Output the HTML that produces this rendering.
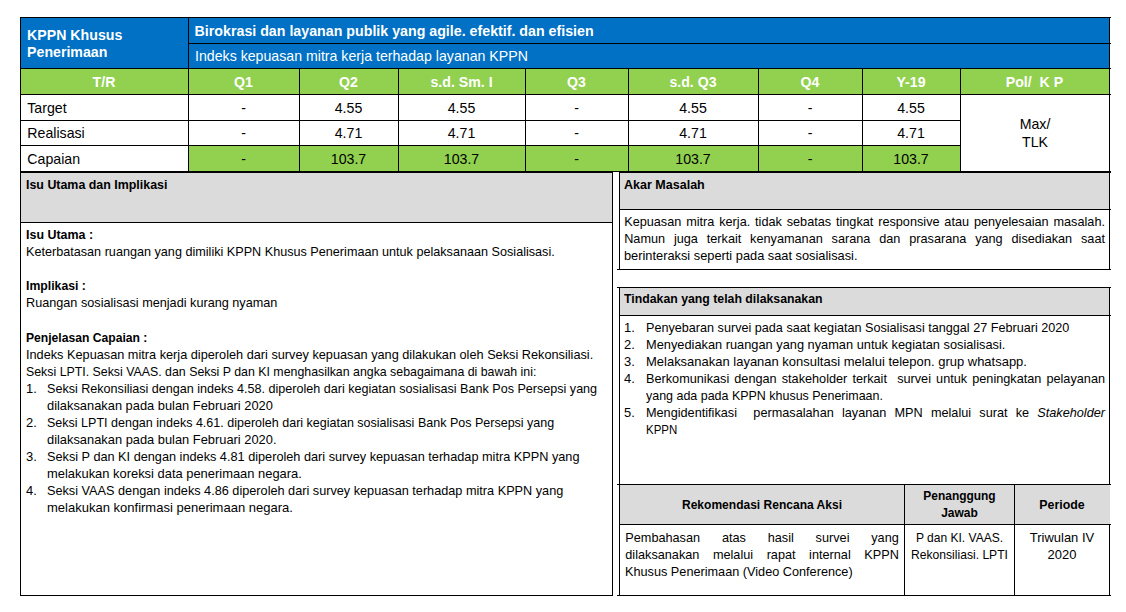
<!DOCTYPE html>
<html lang="id"><head><meta charset="utf-8"><title>KPPN Khusus Penerimaan</title>
<style>
html,body{margin:0;padding:0;background:#fff}
body{width:1126px;height:612px;position:relative;overflow:hidden;font-family:"Liberation Sans",sans-serif}
.b{position:absolute}
.t{position:absolute;white-space:nowrap;font-family:"Liberation Sans",sans-serif;color:#000}
.j{text-align:justify;text-align-last:justify}
</style></head><body>
<div class="b" style="left:20px;top:17px;width:1090px;height:51px;background:#0071c4"></div>
<div class="b" style="left:20px;top:68px;width:1090px;height:26px;background:#92d050"></div>
<div class="b" style="left:188px;top:145px;width:772px;height:26px;background:#92d050"></div>
<div class="b" style="left:20px;top:17px;width:1091px;height:1px;background:#000"></div>
<div class="b" style="left:188px;top:43px;width:923px;height:1px;background:#000"></div>
<div class="b" style="left:20px;top:68px;width:1091px;height:1px;background:#000"></div>
<div class="b" style="left:20px;top:94px;width:1091px;height:1px;background:#000"></div>
<div class="b" style="left:20px;top:120px;width:940px;height:1px;background:#000"></div>
<div class="b" style="left:20px;top:145px;width:940px;height:1px;background:#000"></div>
<div class="b" style="left:20px;top:171px;width:1091px;height:2px;background:#000"></div>
<div class="b" style="left:20px;top:17px;width:1px;height:155px;background:#000"></div>
<div class="b" style="left:188px;top:17px;width:1px;height:155px;background:#000"></div>
<div class="b" style="left:299px;top:68px;width:1px;height:104px;background:#000"></div>
<div class="b" style="left:398px;top:68px;width:1px;height:104px;background:#000"></div>
<div class="b" style="left:525px;top:68px;width:1px;height:104px;background:#000"></div>
<div class="b" style="left:628px;top:68px;width:1px;height:104px;background:#000"></div>
<div class="b" style="left:758px;top:68px;width:1px;height:104px;background:#000"></div>
<div class="b" style="left:862px;top:68px;width:1px;height:104px;background:#000"></div>
<div class="b" style="left:960px;top:68px;width:1px;height:104px;background:#000"></div>
<div class="b" style="left:1109px;top:17px;width:1px;height:155px;background:#000"></div>
<div class="t" style="top:26.09px;font-size:14.17px;line-height:18px;color:#fff;font-weight:bold;left:27.1px;">KPPN Khusus</div>
<div class="t" style="top:42.69px;font-size:14.17px;line-height:18px;color:#fff;font-weight:bold;left:27.1px;">Penerimaan</div>
<div class="t" style="top:21.69px;font-size:14.23px;line-height:18px;color:#fff;font-weight:bold;left:194.6px;">Birokrasi dan layanan publik yang agile. efektif. dan efisien</div>
<div class="t" style="top:46.89px;font-size:14.17px;line-height:18px;color:#fff;left:195px;">Indeks kepuasan mitra kerja terhadap layanan KPPN</div>
<div class="t" style="top:73.09px;font-size:14.17px;line-height:18px;color:#fff;font-weight:bold;left:20px;width:168px;text-align:center;">T/R</div>
<div class="t" style="top:73.09px;font-size:14.17px;line-height:18px;color:#fff;font-weight:bold;left:188px;width:111px;text-align:center;">Q1</div>
<div class="t" style="top:73.09px;font-size:14.17px;line-height:18px;color:#fff;font-weight:bold;left:299px;width:99px;text-align:center;">Q2</div>
<div class="t" style="top:73.09px;font-size:14.17px;line-height:18px;color:#fff;font-weight:bold;left:398px;width:127px;text-align:center;">s.d. Sm. I</div>
<div class="t" style="top:73.09px;font-size:14.17px;line-height:18px;color:#fff;font-weight:bold;left:525px;width:103px;text-align:center;">Q3</div>
<div class="t" style="top:73.09px;font-size:14.17px;line-height:18px;color:#fff;font-weight:bold;left:628px;width:130px;text-align:center;">s.d. Q3</div>
<div class="t" style="top:73.09px;font-size:14.17px;line-height:18px;color:#fff;font-weight:bold;left:758px;width:104px;text-align:center;">Q4</div>
<div class="t" style="top:73.09px;font-size:14.17px;line-height:18px;color:#fff;font-weight:bold;left:862px;width:98px;text-align:center;">Y-19</div>
<div class="t" style="top:73.09px;font-size:14.17px;line-height:18px;color:#fff;font-weight:bold;left:960px;width:149px;text-align:center;">Pol/&nbsp; K P</div>
<div class="t" style="top:98.69px;font-size:14.17px;line-height:18px;color:#000;left:27.3px;">Target</div>
<div class="t" style="top:98.69px;font-size:14.17px;line-height:18px;color:#000;left:188px;width:111px;text-align:center;">-</div>
<div class="t" style="top:98.69px;font-size:14.17px;line-height:18px;color:#000;left:299px;width:99px;text-align:center;">4.55</div>
<div class="t" style="top:98.69px;font-size:14.17px;line-height:18px;color:#000;left:398px;width:127px;text-align:center;">4.55</div>
<div class="t" style="top:98.69px;font-size:14.17px;line-height:18px;color:#000;left:525px;width:103px;text-align:center;">-</div>
<div class="t" style="top:98.69px;font-size:14.17px;line-height:18px;color:#000;left:628px;width:130px;text-align:center;">4.55</div>
<div class="t" style="top:98.69px;font-size:14.17px;line-height:18px;color:#000;left:758px;width:104px;text-align:center;">-</div>
<div class="t" style="top:98.69px;font-size:14.17px;line-height:18px;color:#000;left:862px;width:98px;text-align:center;">4.55</div>
<div class="t" style="top:124.19px;font-size:14.17px;line-height:18px;color:#000;left:27.3px;">Realisasi</div>
<div class="t" style="top:124.19px;font-size:14.17px;line-height:18px;color:#000;left:188px;width:111px;text-align:center;">-</div>
<div class="t" style="top:124.19px;font-size:14.17px;line-height:18px;color:#000;left:299px;width:99px;text-align:center;">4.71</div>
<div class="t" style="top:124.19px;font-size:14.17px;line-height:18px;color:#000;left:398px;width:127px;text-align:center;">4.71</div>
<div class="t" style="top:124.19px;font-size:14.17px;line-height:18px;color:#000;left:525px;width:103px;text-align:center;">-</div>
<div class="t" style="top:124.19px;font-size:14.17px;line-height:18px;color:#000;left:628px;width:130px;text-align:center;">4.71</div>
<div class="t" style="top:124.19px;font-size:14.17px;line-height:18px;color:#000;left:758px;width:104px;text-align:center;">-</div>
<div class="t" style="top:124.19px;font-size:14.17px;line-height:18px;color:#000;left:862px;width:98px;text-align:center;">4.71</div>
<div class="t" style="top:149.69px;font-size:14.17px;line-height:18px;color:#000;left:27.3px;">Capaian</div>
<div class="t" style="top:149.69px;font-size:14.17px;line-height:18px;color:#000;left:188px;width:111px;text-align:center;">-</div>
<div class="t" style="top:149.69px;font-size:14.17px;line-height:18px;color:#000;left:299px;width:99px;text-align:center;">103.7</div>
<div class="t" style="top:149.69px;font-size:14.17px;line-height:18px;color:#000;left:398px;width:127px;text-align:center;">103.7</div>
<div class="t" style="top:149.69px;font-size:14.17px;line-height:18px;color:#000;left:525px;width:103px;text-align:center;">-</div>
<div class="t" style="top:149.69px;font-size:14.17px;line-height:18px;color:#000;left:628px;width:130px;text-align:center;">103.7</div>
<div class="t" style="top:149.69px;font-size:14.17px;line-height:18px;color:#000;left:758px;width:104px;text-align:center;">-</div>
<div class="t" style="top:149.69px;font-size:14.17px;line-height:18px;color:#000;left:862px;width:98px;text-align:center;">103.7</div>
<div class="t" style="top:115.09px;font-size:14.17px;line-height:18px;color:#000;left:960px;width:150px;text-align:center;">Max/</div>
<div class="t" style="top:132.59px;font-size:14.17px;line-height:18px;color:#000;left:960px;width:150px;text-align:center;">TLK</div>
<div class="b" style="left:20px;top:173px;width:593px;height:49px;background:#dbdbdb"></div>
<div class="b" style="left:20px;top:221.5px;width:593px;height:1px;background:#000"></div>
<div class="b" style="left:20px;top:594.5px;width:593px;height:1px;background:#000"></div>
<div class="b" style="left:20px;top:171px;width:1px;height:424px;background:#000"></div>
<div class="b" style="left:612px;top:171px;width:1px;height:424px;background:#000"></div>
<div class="t c" style="top:177.00px;font-size:12.7px;line-height:17px;font-weight:bold;left:26.0px;transform-origin:0 0;transform:scaleX(0.9781);">Isu Utama dan Implikasi</div>
<div class="t c" style="top:227.00px;font-size:12.7px;line-height:17px;font-weight:bold;left:25.9px;transform-origin:0 0;transform:scaleX(0.9806);">Isu Utama :</div>
<div class="t c" style="top:244.00px;font-size:12.7px;line-height:17px;left:25.9px;transform-origin:0 0;transform:scaleX(0.9956);">Keterbatasan ruangan yang dimiliki KPPN Khusus Penerimaan untuk pelaksanaan Sosialisasi.</div>
<div class="t c" style="top:278.00px;font-size:12.7px;line-height:17px;font-weight:bold;left:25.9px;transform-origin:0 0;transform:scaleX(0.9652);">Implikasi :</div>
<div class="t c" style="top:295.00px;font-size:12.7px;line-height:17px;left:25.9px;transform-origin:0 0;transform:scaleX(0.9983);">Ruangan sosialisasi menjadi kurang nyaman</div>
<div class="t c" style="top:330.00px;font-size:12.7px;line-height:17px;font-weight:bold;left:25.9px;transform-origin:0 0;transform:scaleX(0.9559);">Penjelasan Capaian :</div>
<div class="t c" style="top:347.00px;font-size:12.7px;line-height:17px;left:25.9px;transform-origin:0 0;transform:scaleX(1.0028);">Indeks Kepuasan mitra kerja diperoleh dari survey kepuasan yang dilakukan oleh Seksi Rekonsiliasi.</div>
<div class="t c" style="top:364.00px;font-size:12.7px;line-height:17px;left:25.9px;transform-origin:0 0;transform:scaleX(0.9735);">Seksi LPTI. Seksi VAAS. dan Seksi P dan KI menghasilkan angka sebagaimana di bawah ini:</div>
<div class="t c" style="top:381.00px;font-size:12.7px;line-height:17px;left:25.9px;transform-origin:0 0;transform:scaleX(1.0194);">1.</div>
<div class="t c" style="top:381.00px;font-size:12.7px;line-height:17px;left:46.7px;transform-origin:0 0;transform:scaleX(0.9911);">Seksi Rekonsiliasi dengan indeks 4.58. diperoleh dari kegiatan sosialisasi Bank Pos Persepsi yang</div>
<div class="t c" style="top:398.00px;font-size:12.7px;line-height:17px;left:46.7px;transform-origin:0 0;transform:scaleX(1.0133);">dilaksanakan pada bulan Februari 2020</div>
<div class="t c" style="top:415.00px;font-size:12.7px;line-height:17px;left:25.9px;transform-origin:0 0;transform:scaleX(1.0194);">2.</div>
<div class="t c" style="top:415.00px;font-size:12.7px;line-height:17px;left:46.7px;transform-origin:0 0;transform:scaleX(0.9866);">Seksi LPTI dengan indeks 4.61. diperoleh dari kegiatan sosialisasi Bank Pos Persepsi yang</div>
<div class="t c" style="top:432.00px;font-size:12.7px;line-height:17px;left:46.7px;transform-origin:0 0;transform:scaleX(1.0134);">dilaksanakan pada bulan Februari 2020.</div>
<div class="t c" style="top:449.00px;font-size:12.7px;line-height:17px;left:25.9px;transform-origin:0 0;transform:scaleX(1.0194);">3.</div>
<div class="t c" style="top:449.00px;font-size:12.7px;line-height:17px;left:46.7px;transform-origin:0 0;transform:scaleX(1.0017);">Seksi P dan KI dengan indeks 4.81 diperoleh dari survey kepuasan terhadap mitra KPPN yang</div>
<div class="t c" style="top:466.00px;font-size:12.7px;line-height:17px;left:46.7px;transform-origin:0 0;transform:scaleX(1.0178);">melakukan koreksi data penerimaan negara.</div>
<div class="t c" style="top:483.00px;font-size:12.7px;line-height:17px;left:25.9px;transform-origin:0 0;transform:scaleX(1.0194);">4.</div>
<div class="t c" style="top:483.00px;font-size:12.7px;line-height:17px;left:46.7px;transform-origin:0 0;transform:scaleX(1.0005);">Seksi VAAS dengan indeks 4.86 diperoleh dari survey kepuasan terhadap mitra KPPN yang</div>
<div class="t c" style="top:500.00px;font-size:12.7px;line-height:17px;left:46.7px;transform-origin:0 0;transform:scaleX(1.0256);">melakukan konfirmasi penerimaan negara.</div>
<div class="b" style="left:613px;top:172px;width:6px;height:1px;background:#fff"></div>
<div class="b" style="left:620px;top:173px;width:490px;height:36px;background:#dbdbdb"></div>
<div class="b" style="left:620px;top:209px;width:491px;height:1px;background:#000"></div>
<div class="b" style="left:617px;top:269px;width:494px;height:1px;background:#000"></div>
<div class="b" style="left:619px;top:171px;width:1px;height:99px;background:#000"></div>
<div class="b" style="left:1109px;top:171px;width:1px;height:99px;background:#000"></div>
<div class="t c" style="top:177.00px;font-size:12.7px;line-height:17px;font-weight:bold;left:624.2px;transform-origin:0 0;transform:scaleX(0.9872);">Akar Masalah</div>
<div class="t c j" style="left:624.2px;width:480.8px;top:214.00px;font-size:12.7px;line-height:17px;">Kepuasan mitra kerja. tidak sebatas tingkat responsive atau penyelesaian masalah.</div>
<div class="t c j" style="left:624.2px;width:480.8px;top:231.00px;font-size:12.7px;line-height:17px;">Namun juga terkait kenyamanan sarana dan prasarana yang disediakan saat</div>
<div class="t c" style="top:248.00px;font-size:12.7px;line-height:17px;left:624.2px;transform-origin:0 0;transform:scaleX(1.0095);">berinteraksi seperti pada saat sosialisasi.</div>
<div class="b" style="left:620px;top:288px;width:490px;height:27px;background:#dbdbdb"></div>
<div class="b" style="left:617px;top:287px;width:494px;height:1px;background:#000"></div>
<div class="b" style="left:620px;top:315px;width:491px;height:1px;background:#000"></div>
<div class="b" style="left:619px;top:287px;width:1px;height:309px;background:#000"></div>
<div class="b" style="left:1109px;top:287px;width:1px;height:309px;background:#000"></div>
<div class="t c" style="top:291.00px;font-size:12.7px;line-height:17px;font-weight:bold;left:624.2px;transform-origin:0 0;transform:scaleX(0.9686);">Tindakan yang telah dilaksanakan</div>
<div class="t c" style="top:320.00px;font-size:12.7px;line-height:17px;left:624.3px;transform-origin:0 0;transform:scaleX(1.0194);">1.</div>
<div class="t c" style="top:337.00px;font-size:12.7px;line-height:17px;left:624.3px;transform-origin:0 0;transform:scaleX(1.0194);">2.</div>
<div class="t c" style="top:354.00px;font-size:12.7px;line-height:17px;left:624.3px;transform-origin:0 0;transform:scaleX(1.0194);">3.</div>
<div class="t c" style="top:371.00px;font-size:12.7px;line-height:17px;left:624.3px;transform-origin:0 0;transform:scaleX(1.0194);">4.</div>
<div class="t c" style="top:405.00px;font-size:12.7px;line-height:17px;left:624.3px;transform-origin:0 0;transform:scaleX(1.0194);">5.</div>
<div class="t c" style="top:320.00px;font-size:12.7px;line-height:17px;left:646.0px;transform-origin:0 0;transform:scaleX(0.9953);">Penyebaran survei pada saat kegiatan Sosialisasi tanggal 27 Februari 2020</div>
<div class="t c" style="top:337.00px;font-size:12.7px;line-height:17px;left:646.0px;transform-origin:0 0;transform:scaleX(1.0090);">Menyediakan ruangan yang nyaman untuk kegiatan sosialisasi.</div>
<div class="t c" style="top:354.00px;font-size:12.7px;line-height:17px;left:646.0px;transform-origin:0 0;transform:scaleX(1.0229);">Melaksanakan layanan konsultasi melalui telepon. grup whatsapp.</div>
<div class="t c j" style="left:646.0px;width:459.0px;top:371.00px;font-size:12.7px;line-height:17px;">Berkomunikasi dengan stakeholder terkait&nbsp; survei untuk peningkatan pelayanan</div>
<div class="t c" style="top:388.00px;font-size:12.7px;line-height:17px;left:646.0px;transform-origin:0 0;transform:scaleX(0.9821);">yang ada pada KPPN khusus Penerimaan.</div>
<div class="t c j" style="left:646.0px;width:459.0px;top:405.00px;font-size:12.7px;line-height:17px;">Mengidentifikasi&nbsp; permasalahan layanan MPN melalui surat ke <i>Stakeholder</i></div>
<div class="t c" style="top:422.00px;font-size:12.7px;line-height:17px;left:646.0px;transform-origin:0 0;transform:scaleX(0.9039);">KPPN</div>
<div class="b" style="left:620px;top:485px;width:490px;height:39px;background:#dbdbdb"></div>
<div class="b" style="left:617px;top:484px;width:494px;height:1px;background:#000"></div>
<div class="b" style="left:620px;top:524px;width:491px;height:1px;background:#000"></div>
<div class="b" style="left:617px;top:595px;width:494px;height:1px;background:#000"></div>
<div class="b" style="left:904px;top:484px;width:1px;height:112px;background:#000"></div>
<div class="b" style="left:1014px;top:484px;width:1px;height:112px;background:#000"></div>
<div class="t c" style="top:497.00px;font-size:12.7px;line-height:17px;font-weight:bold;left:620.0px;width:284px;text-align:center;transform-origin:50% 0;transform:scaleX(0.9485);">Rekomendasi Rencana Aksi</div>
<div class="t c" style="top:488.00px;font-size:12.7px;line-height:17px;font-weight:bold;left:905.0px;width:109px;text-align:center;transform-origin:50% 0;transform:scaleX(0.9413);">Penanggung</div>
<div class="t c" style="top:505.00px;font-size:12.7px;line-height:17px;font-weight:bold;left:905.0px;width:109px;text-align:center;transform-origin:50% 0;transform:scaleX(0.9455);">Jawab</div>
<div class="t c" style="top:497.00px;font-size:12.7px;line-height:17px;font-weight:bold;left:1015.0px;width:94px;text-align:center;transform-origin:50% 0;transform:scaleX(0.9763);">Periode</div>
<div class="t c j" style="left:625.3px;width:273.5px;top:530.00px;font-size:12.7px;line-height:17px;">Pembahasan atas hasil survei yang</div>
<div class="t c j" style="left:625.3px;width:273.5px;top:547.00px;font-size:12.7px;line-height:17px;">dilaksanakan melalui rapat internal KPPN</div>
<div class="t c" style="top:564.00px;font-size:12.7px;line-height:17px;left:625.3px;transform-origin:0 0;transform:scaleX(1.0003);">Khusus Penerimaan (Video Conference)</div>
<div class="t c" style="top:530.00px;font-size:12.7px;line-height:17px;left:905.0px;width:109px;text-align:center;transform-origin:50% 0;transform:scaleX(0.9486);">P dan KI. VAAS.</div>
<div class="t c" style="top:547.00px;font-size:12.7px;line-height:17px;left:905.0px;width:109px;text-align:center;transform-origin:50% 0;transform:scaleX(0.9550);">Rekonsiliasi. LPTI</div>
<div class="t c" style="top:530.00px;font-size:12.7px;line-height:17px;left:1015.0px;width:94px;text-align:center;transform-origin:50% 0;transform:scaleX(1.0201);">Triwulan IV</div>
<div class="t c" style="top:547.00px;font-size:12.7px;line-height:17px;left:1015.0px;width:94px;text-align:center;transform-origin:50% 0;transform:scaleX(1.0204);">2020</div>
</body></html>
